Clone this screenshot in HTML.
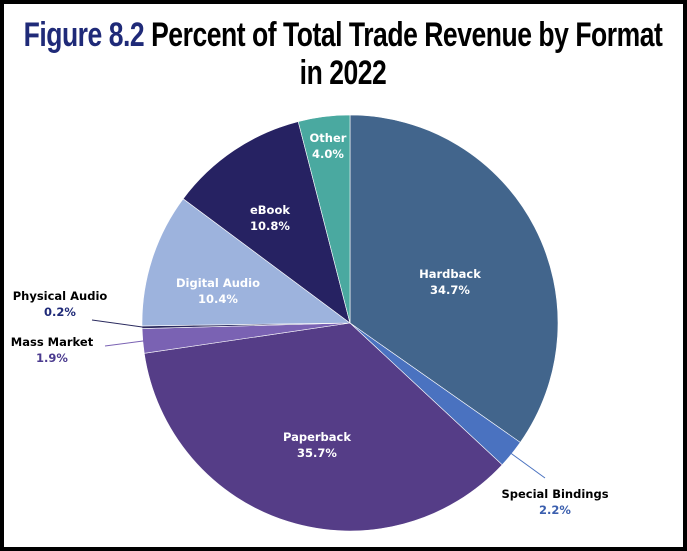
<!DOCTYPE html>
<html><head><meta charset="utf-8"><style>
html,body{margin:0;padding:0;background:#fff}
#wrap{position:relative;width:687px;height:551px;box-sizing:border-box;border:4px solid #000;background:#fff;overflow:hidden}
.t{position:absolute;left:339px;transform:translateX(-50%) scaleX(0.78);font-family:"Liberation Sans",sans-serif;font-weight:bold;font-size:34px;color:#000;white-space:nowrap;letter-spacing:-0.6px}
svg{position:absolute;left:-4px;top:-4px}
</style></head><body>
<div id="wrap">
<div class="t" style="top:12px"><span style="color:#1f2a78">Figure 8.2</span> Percent of Total Trade Revenue by Format</div>
<div class="t" style="top:50px">in 2022</div>
<svg id="pie" width="687" height="551"></svg>
</div>
<script>
const categories=["Hardback","Special Bindings","Paperback","Mass Market","Physical Audio","Digital Audio","eBook","Other"];
const values=[34.7,2.2,35.7,1.9,0.2,10.4,10.8,4.0];
const labels=["34.7%","2.2%","35.7%","1.9%","0.2%","10.4%","10.8%","4.0%"];
const colors=["#42658c","#4a72c0","#553d87","#7a62b3","#2a2a5e","#9db3dd","#262262","#4aa9a0"];
const cx=350,cy=323,R=208;
// label layout (text centre x, first baseline y, leader end x,y or null)
const layout=[[450,278,null],[555,498,[545,478]],[317,441,null],[52,346,[105,346]],[60,300,[92,320]],[218,287,null],[270,214,null],[328,142,null]];
const outsideColor=[null,"#3b5fae",null,"#4b3b8f","#1f2a78",null,null,null];
const svg=document.getElementById('pie');
const NS="http://www.w3.org/2000/svg";
const total=values.reduce((a,b)=>a+b,0);
function pt(a,r){return [cx+r*Math.sin(a),cy-r*Math.cos(a)];}
let a0=0;
values.forEach((v,i)=>{
  const a1=a0+v/total*2*Math.PI;
  const p0=pt(a0,R),p1=pt(a1,R);
  const large=(a1-a0)>Math.PI?1:0;
  const path=document.createElementNS(NS,'path');
  path.setAttribute('d',`M${cx},${cy}L${p0[0]},${p0[1]}A${R},${R} 0 ${large} 1 ${p1[0]},${p1[1]}Z`);
  path.setAttribute('fill',colors[i]);
  path.setAttribute('stroke','#fff');
  path.setAttribute('stroke-width','0.6');
  
  
  svg.appendChild(path);
  const am=(a0+a1)/2;
  const L=layout[i];
  let lx=L[0],ly=L[1],c1="#fff",c2="#fff";
  if(L[2]){
    c1="#000";c2=outsideColor[i];
    const e=pt(am,R*0.99);
    const ln=document.createElementNS(NS,'line');
    ln.setAttribute('x1',e[0]);ln.setAttribute('y1',e[1]);
    ln.setAttribute('x2',L[2][0]);ln.setAttribute('y2',L[2][1]);
    ln.setAttribute('stroke',colors[i]);ln.setAttribute('stroke-width','1');
    
    
    svg.appendChild(ln);
  }
  const t=document.createElementNS(NS,'text');
  t.setAttribute('x',lx);t.setAttribute('y',ly);
  t.setAttribute('text-anchor','middle');
  t.setAttribute('font-family','"DejaVu Sans",Verdana,sans-serif');
  t.setAttribute('font-weight','bold');t.setAttribute('font-size','11.5');
  
  
  const s1=document.createElementNS(NS,'tspan');s1.setAttribute('x',lx);s1.setAttribute('fill',c1);s1.textContent=categories[i];
  const s2=document.createElementNS(NS,'tspan');s2.setAttribute('x',lx);s2.setAttribute('dy','16');s2.setAttribute('fill',c2);s2.textContent=labels[i];
  t.appendChild(s1);t.appendChild(s2);svg.appendChild(t);
  a0=a1;
});
</script>
</body></html>
